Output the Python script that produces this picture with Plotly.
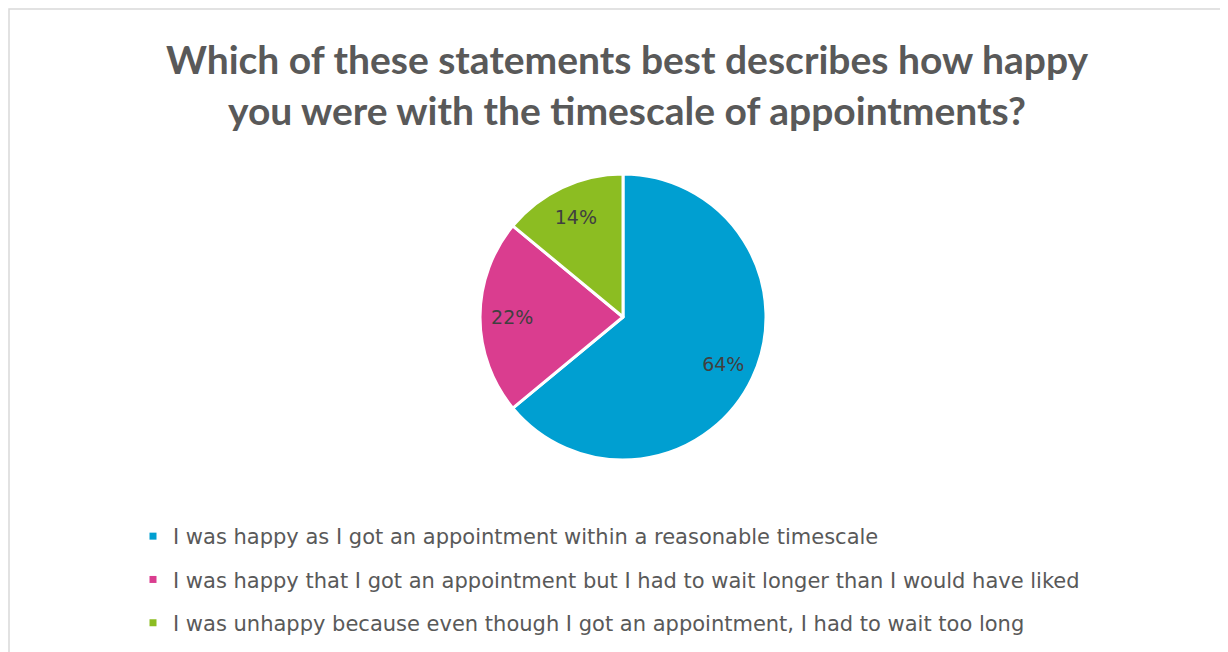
import plotly.graph_objects as go

# ── data ─────────────────────────────────────────────────────────────────────
TITLE = "Which of these statements best describes how happy<br>you were with the timescale of appointments?"
CATEGORIES = [
    "I was happy as I got an appointment within a reasonable timescale",
    "I was happy that I got an appointment but I had to wait longer than I would have liked",
    "I was unhappy because even though I got an appointment, I had to wait too long",
]
SHARES = [64, 22, 14]
COLOURS = ["#009FD1", "#DA3D8F", "#8CBD22"]

# page has an 8px body margin, so the figure is sized / placed to compensate
W, H = 1220, 644
CX, CY, R = 615, 309, 143
GREY = "#595959"
TITLE_FONT = "Lato"
BODY_FONT = "DejaVu Sans"

pie_domain = dict(x=[(CX - R) / W, (CX + R) / W], y=[1 - (CY + R) / H, 1 - (CY - R) / H])

fig = go.Figure()
fig.add_trace(go.Pie(
    labels=CATEGORIES, values=SHARES, sort=False, direction="clockwise", rotation=0,
    marker=dict(colors=COLOURS, line=dict(color="white", width=3)),
    textinfo="none", domain=pie_domain, showlegend=False, hoverinfo="label+percent",
))
# transparent ring on top, only to carry the % labels further out (like Excel "best fit")
fig.add_trace(go.Pie(
    labels=CATEGORIES, values=SHARES, sort=False, direction="clockwise", rotation=0, hole=0.55,
    marker=dict(colors=["rgba(0,0,0,0)"] * 3, line=dict(width=0)),
    texttemplate="%{percent:.0%}", textposition="inside", insidetextorientation="horizontal",
    textfont=dict(family=BODY_FONT, size=19, color="#404040"),
    domain=pie_domain, showlegend=False, hoverinfo="skip",
))

# legend entries (small square keys, wide row spacing)
for i, (cat, col) in enumerate(zip(CATEGORIES, COLOURS)):
    fig.add_trace(go.Scatter(
        x=[None], y=[None], mode="markers", name=cat, legendgroup=f"g{i}",
        marker=dict(symbol="square", size=7, color=col),
    ))

fig.update_layout(
    width=W, height=H, margin=dict(l=0, r=0, t=0, b=0),
    paper_bgcolor="white", plot_bgcolor="white",
    font=dict(family=BODY_FONT, color=GREY),
    title=dict(text=f"<b>{TITLE}</b>", x=619 / W, xanchor="center", y=1 - 66 / H, yanchor="top",
               yref="container", font=dict(family=TITLE_FONT, size=39, color=GREY)),
    xaxis=dict(visible=False), yaxis=dict(visible=False),
    legend=dict(x=125 / W, xanchor="left", y=1 - 508 / H, yanchor="top",
                font=dict(family=BODY_FONT, size=21, color=GREY), tracegroupgap=13,
                bgcolor="rgba(0,0,0,0)"),
    shapes=[dict(type="rect", xref="paper", yref="paper", x0=1 / W, x1=1.1, y0=-0.1, y1=1 - 1 / H,
                 line=dict(color="#D9D9D9", width=1.5), layer="below")],
)

fig.write_html("out.html")
